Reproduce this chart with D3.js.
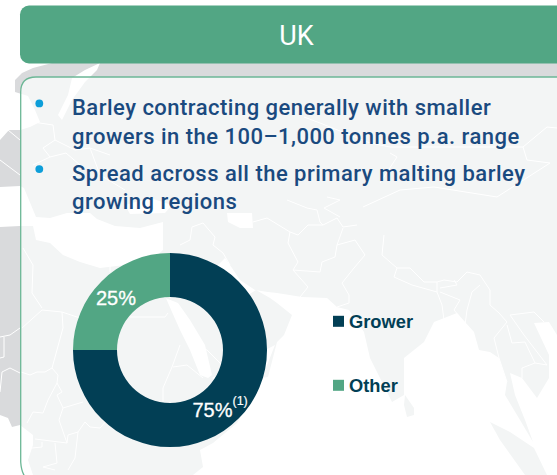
<!DOCTYPE html>
<html><head><meta charset="utf-8">
<script src="https://cdn.jsdelivr.net/npm/d3@7"></script>
<style>html,body{margin:0;padding:0;background:#fff;overflow:hidden}svg{display:block}text{font-family:"Liberation Sans",Arial,sans-serif}</style>
</head><body><div id="c"></div>
<script>
const title = "UK";
const bullets = [
  ["Barley contracting generally with smaller", "growers in the 100–1,000 tonnes p.a. range"],
  ["Spread across all the primary malting barley", "growing regions"]
];
const categories = ["Other", "Grower"];
const values = [25, 75];
const labels = ["25%", "75%"];
const footnote = "(1)";
const legendOrder = ["Grower", "Other"];
const colors = {Grower:"#023f55", Other:"#52a684"};

const W=557,H=475;
const svg=d3.select("#c").append("svg").attr("width",W).attr("height",H);
const defs=svg.append("defs");
const cardPath="M20.7,462 V92 Q20.7,77 36,77 H562 V482 H36 Q22,482 20.7,462";
const cardClip="M20.7,476 V92 Q20.7,77 36,77 H562 V476 H36 Z";
defs.append("clipPath").attr("id","card").append("path").attr("d",cardClip);

// decorative background map, traced by eye
const land=[[0,140],[9,130],[20,130],[30,127],[40,122],[35,110],[28,96],[15,92],[15,80],[22,73],[33,68],[52,63],[557,63],[557,335],[549,322],[534,323],[549,355],[549,378],[537,398],[522,378],[510,373],[515,395],[525,420],[533,442],[520,420],[505,395],[507,382],[499,358],[490,352],[479,350],[474,332],[457,313],[434,322],[424,342],[404,358],[404,395],[392,402],[370,358],[364,332],[349,310],[337,307],[327,298],[302,297],[277,293],[268,292],[255,290],[240,280],[232,268],[225,258],[215,268],[240,300],[256,290],[270,298],[277,303],[292,315],[284,335],[277,342],[268,377],[262,378],[245,410],[237,423],[213,443],[200,450],[203,467],[193,475],[33,475],[28,460],[33,445],[33,435],[20,425],[12,427],[8,418],[0,415]];
const seas=[
 [[0,187],[20,186],[24,188],[36,217],[50,218],[67,213],[90,213],[97,219],[115,226],[140,228],[163,222],[163,250],[150,262],[100,268],[80,262],[63,255],[50,243],[36,240],[33,226],[20,226],[0,227]],
 [[100,63],[85,70],[72,78],[68,95],[58,115],[62,120],[72,100],[85,82],[97,70]],
 [[125,205],[150,198],[172,205],[165,213],[130,214]],
 [[227,213],[252,213],[253,228],[240,228],[228,222]],
 [[163,262],[163,297],[178,303],[190,320],[205,345],[212,375],[208,378],[200,375],[190,350],[180,330],[172,312],[150,262]],
 [[212,378],[275,345],[262,378],[225,385]]
];
const islands=[
 [[405,395],[414,408],[414,415],[407,417],[404,405]],
 [[490,422],[510,432],[534,448],[547,475],[525,475],[500,440]]
];
const line=d3.line();
function drawMap(g,fill){
  g.append("path").attr("d",line(land)+"Z").attr("fill",fill);
  g.selectAll("path.sea").data(seas).join("path").attr("class","sea").attr("d",d=>line(d)+"Z").attr("fill","#fff");
  g.selectAll("path.isl").data(islands).join("path").attr("class","isl").attr("d",d=>line(d)+"Z").attr("fill",fill);
}
drawMap(svg.append("g"),"#d9dadc");
const outerBorders=[[[0,337],[10,335],[20,328]],[[4,337],[4,357],[0,358]],[[2,372],[10,368],[20,373]],[[2,372],[0,392]],[[8,130],[20,140]],[[0,160],[20,175]]];
svg.append("g").selectAll("path").data(outerBorders).join("path").attr("d",line).attr("fill","none").attr("stroke","#fff").attr("stroke-width",1);
const inner=svg.append("g").attr("clip-path","url(#card)");
inner.append("rect").attr("x",0).attr("y",0).attr("width",W).attr("height",H).attr("fill","#fff");
drawMap(inner,"#f3f5f5");
const borders=[
 [[21,372],[30,375],[37,372],[45,372],[52,368],[63,328],[62,312]],
 [[52,368],[58,375],[57,383],[48,400],[43,413],[33,412],[27,423]],
 [[57,383],[62,392],[57,395],[63,408],[83,402]],
 [[63,408],[59,420],[67,443],[35,439]],
 [[67,443],[68,435],[78,432],[75,458],[68,470]],
 [[78,432],[85,422],[90,427],[100,428],[107,420]],
 [[55,443],[57,463],[43,467],[55,470]],
 [[32,448],[42,447],[42,442]],
 [[22,328],[42,310],[62,312],[80,318]],
 [[42,308],[32,293],[33,265],[23,248]],
 [[110,258],[110,272]],
 [[130,317],[165,317],[168,313]],
 [[172,367],[163,388],[163,402]],
 [[173,367],[187,365],[203,378]],
 [[180,345],[172,367]],[[195,345],[207,350],[222,365]],
 [[192,227],[203,223],[215,237],[213,245],[223,253],[230,265]],
 [[192,227],[190,240],[180,245]],
 [[253,222],[267,218],[290,232],[298,235],[308,225],[323,225],[337,218],[343,227],[357,225]],
 [[290,232],[288,243],[298,262],[293,270],[308,287],[300,297]],
 [[293,270],[320,272],[322,262],[335,257],[337,245],[355,240],[365,255],[354,268],[342,283],[349,295],[349,303],[337,307]],
 [[337,245],[343,228]],
 [[287,200],[307,208],[317,210],[320,222],[323,225]],
 [[384,235],[382,255],[397,268],[410,268],[424,282],[437,282],[437,292],[412,285],[394,277],[397,268]],
 [[437,282],[444,280],[457,282],[467,272],[480,275],[490,290],[490,305],[499,313],[507,322]],
 [[480,285],[472,292],[467,310],[465,325]],
 [[437,292],[442,305],[444,320]],[[440,292],[460,300],[454,310],[460,317]],
 [[440,288],[457,285],[454,280]],
 [[507,322],[494,338],[499,358],[507,382]],
 [[507,325],[512,343],[525,342],[535,363],[522,368],[522,378]],
 [[535,363],[547,365]],[[547,365],[524,335],[510,315],[534,312],[544,322]],
 [[20,130],[33,122],[53,125],[55,140],[43,148],[50,157],[66,153],[80,165],[70,180]],
 [[55,140],[75,150],[90,148],[110,155]],[[33,165],[50,157]],[[90,148],[100,175],[125,190]],
 [[304,117],[320,123],[370,143],[390,147]],[[390,153],[397,157],[380,183]],
 [[523,147],[547,127],[557,128]],[[523,147],[527,160],[550,163],[497,197],[434,187],[400,190],[363,207]],
 [[390,147],[425,147],[523,147]],
 [[327,197],[340,200],[324,208],[340,217]]
];
inner.append("g").selectAll("path").data(borders).join("path")
  .attr("d",line).attr("fill","none").attr("stroke","#fff").attr("stroke-width",1);

// card and header
svg.append("path").attr("d",cardPath).attr("fill","none").attr("stroke","#6cb796").attr("stroke-width",1.3);
svg.append("rect").attr("x",20).attr("y",5.5).attr("width",560).attr("height",58).attr("rx",9).attr("fill",colors.Other);
svg.append("text").attr("x",296.5).attr("y",45).attr("text-anchor","middle").attr("fill","#fff")
  .style("font-family","Roboto").attr("font-size",27).text(title);

// bullets
const rowY=[[115,143.7],[180.7,209.3]];
bullets.forEach((b,i)=>{
  svg.append("circle").attr("cx",39.3).attr("cy",rowY[i][0]-11.6).attr("r",3.9).attr("fill","#0d9ed9");
  b.forEach((t,j)=>svg.append("text").attr("x",72).attr("y",rowY[i][j]).attr("fill","#1a4a7f")
    .style("font-family","Roboto").style("letter-spacing","0.48px").attr("font-size",22).attr("font-weight",500).text(t));
});

// donut
const pie=d3.pie().sort(null).startAngle(-Math.PI/2).endAngle(1.5*Math.PI);
const arc=d3.arc().innerRadius(53).outerRadius(97);
const arcs=pie(values);
const dg=svg.append("g").attr("transform","translate(170,350)");
dg.selectAll("path").data(arcs).join("path").attr("d",arc).attr("fill",(d,i)=>colors[categories[i]]);
svg.append("text").attr("x",96).attr("y",305).attr("fill","#fff").attr("stroke","#fff").attr("stroke-width",.3).attr("font-size",20).text(labels[0]);
svg.append("text").attr("x",192.5).attr("y",417).attr("fill","#fff").attr("stroke","#fff").attr("stroke-width",.3).attr("font-size",20).text(labels[1]);
svg.append("text").attr("x",232.5).attr("y",405).attr("fill","#fff").attr("stroke","#fff").attr("stroke-width",.2).attr("font-size",12.5).text(footnote);

// legend
const legY=d3.scalePoint().domain(legendOrder).range([321.3,385.3]);
legendOrder.forEach(k=>{
  svg.append("rect").attr("x",333).attr("y",legY(k)-5.5).attr("width",11).attr("height",11).attr("fill",colors[k]);
  svg.append("text").attr("x",349).attr("y",legY(k)+6.5).attr("fill",colors.Grower).attr("font-size",18.3).attr("font-weight",700).text(k);
});
</script></body></html>
